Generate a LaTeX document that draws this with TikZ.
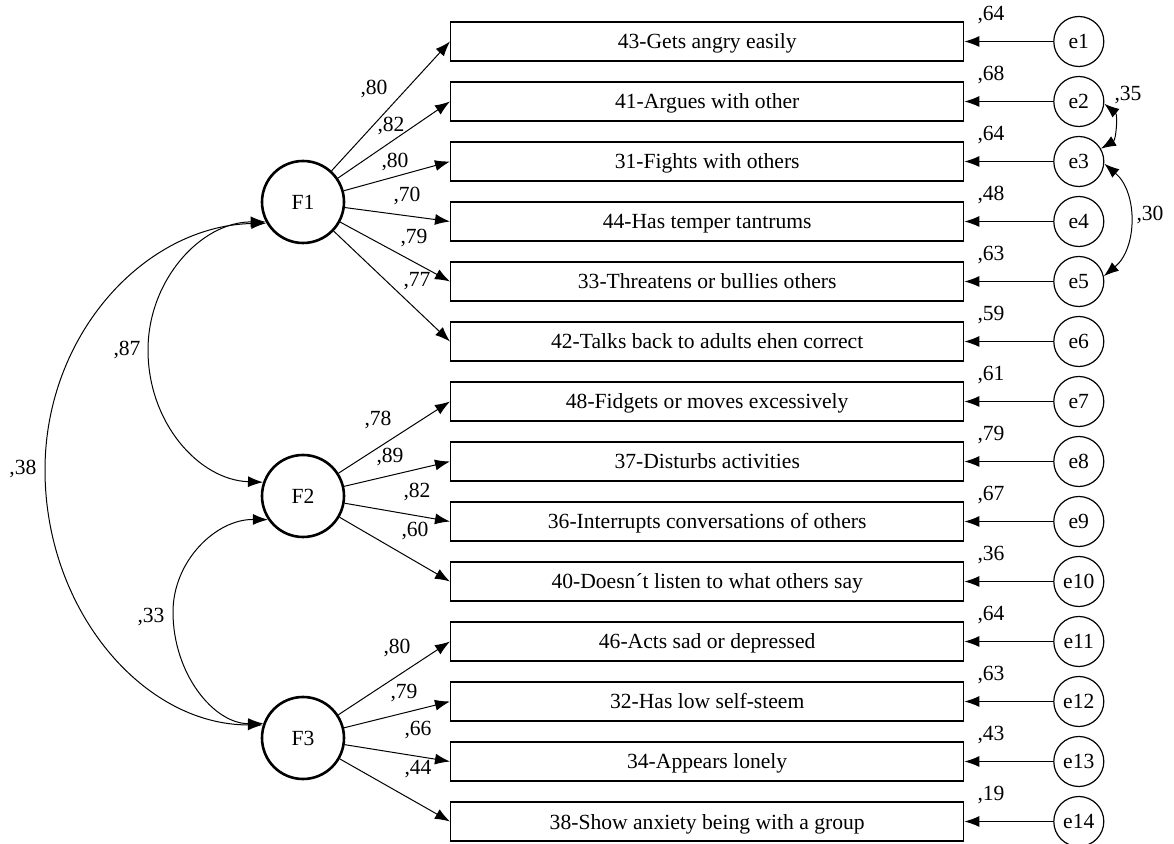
\documentclass[tikz,border=0pt]{standalone}
\usepackage{fontspec}
\setmainfont{Liberation Serif}
\usetikzlibrary{arrows.meta,positioning}

\begin{document}
\begin{tikzpicture}[x=0.5pt,y=0.5pt,>={Latex[length=7.5pt,width=5.5pt]},node distance=9.8pt and 44.4pt,
    font=\fontsize{10.8pt}{13pt}\selectfont,
    item/.style={draw,line width=0.7pt,minimum width=256.5pt,minimum height=19.5pt,text height=9pt,text depth=1.5pt,inner sep=0pt},
    latent/.style={circle,draw,line width=1.3pt,minimum size=41pt,inner sep=0pt},
    err/.style={circle,draw,line width=0.6pt,minimum size=25pt,inner sep=0pt},
    link/.style={->,line width=0.5pt},
    lbl/.style={inner sep=0pt}]
      \useasboundingbox (0,0) rectangle (1174,-844);
      % observed items
      \node[item,anchor=west] (b1) at (450,-41.5) {43-Gets angry easily};
      \node[item,below=of b1] (b2) {41-Argues with other};
      \node[item,below=of b2] (b3) {31-Fights with others};
      \node[item,below=of b3] (b4) {44-Has temper tantrums};
      \node[item,below=of b4] (b5) {33-Threatens or bullies others};
      \node[item,below=of b5] (b6) {42-Talks back to adults ehen correct};
      \node[item,below=of b6] (b7) {48-Fidgets or moves excessively};
      \node[item,below=of b7] (b8) {37-Disturbs activities};
      \node[item,below=of b8] (b9) {36-Interrupts conversations of others};
      \node[item,below=of b9] (b10) {40-Doesn´t listen to what others say};
      \node[item,below=of b10] (b11) {46-Acts sad or depressed};
      \node[item,below=of b11] (b12) {32-Has low self-steem};
      \node[item,below=of b12] (b13) {34-Appears lonely};
      \node[item,below=of b13] (b14) {38-Show anxiety being with a group};
      % error terms
      \node[err,right=of b1] (e1) {e1};
      \node[err,right=of b2] (e2) {e2};
      \node[err,right=of b3] (e3) {e3};
      \node[err,right=of b4] (e4) {e4};
      \node[err,right=of b5] (e5) {e5};
      \node[err,right=of b6] (e6) {e6};
      \node[err,right=of b7] (e7) {e7};
      \node[err,right=of b8] (e8) {e8};
      \node[err,right=of b9] (e9) {e9};
      \node[err,right=of b10] (e10) {e10};
      \node[err,right=of b11] (e11) {e11};
      \node[err,right=of b12] (e12) {e12};
      \node[err,right=of b13] (e13) {e13};
      \node[err,right=of b14] (e14) {e14};
      % factors
      \node[latent] (F1) at (303,-202) {F1};
      \node[latent] (F2) at (303,-496) {F2};
      \node[latent] (F3) at (303,-738) {F3};
      % loadings
      \draw[link] (F1) -- (b1.west);
      \draw[link] (F1) -- (b2.west);
      \draw[link] (F1) -- (b3.west);
      \draw[link] (F1) -- (b4.west);
      \draw[link] (F1) -- (b5.west);
      \draw[link] (F1) -- (b6.west);
      \draw[link] (F2) -- (b7.west);
      \draw[link] (F2) -- (b8.west);
      \draw[link] (F2) -- (b9.west);
      \draw[link] (F2) -- (b10.west);
      \draw[link] (F3) -- (b11.west);
      \draw[link] (F3) -- (b12.west);
      \draw[link] (F3) -- (b13.west);
      \draw[link] (F3) -- (b14.west);
      \node[lbl] at (374,-89) {,80};
      \node[lbl] at (391,-126) {,82};
      \node[lbl] at (395,-162) {,80};
      \node[lbl] at (407,-196) {,70};
      \node[lbl] at (414,-238) {,79};
      \node[lbl] at (417,-281) {,77};
      \node[lbl] at (378,-420) {,78};
      \node[lbl] at (390,-457) {,89};
      \node[lbl] at (417,-492) {,82};
      \node[lbl] at (415,-531) {,60};
      \node[lbl] at (397,-648) {,80};
      \node[lbl] at (404,-693) {,79};
      \node[lbl] at (418,-730) {,66};
      \node[lbl] at (418,-769) {,44};
      % error paths
      \draw[link] (e1) -- (b1.east);
      \draw[link] (e2) -- (b2.east);
      \draw[link] (e3) -- (b3.east);
      \draw[link] (e4) -- (b4.east);
      \draw[link] (e5) -- (b5.east);
      \draw[link] (e6) -- (b6.east);
      \draw[link] (e7) -- (b7.east);
      \draw[link] (e8) -- (b8.east);
      \draw[link] (e9) -- (b9.east);
      \draw[link] (e10) -- (b10.east);
      \draw[link] (e11) -- (b11.east);
      \draw[link] (e12) -- (b12.east);
      \draw[link] (e13) -- (b13.east);
      \draw[link] (e14) -- (b14.east);
      \node[lbl] at (991,-15) {,64};
      \node[lbl] at (991,-75) {,68};
      \node[lbl] at (991,-135) {,64};
      \node[lbl] at (991,-195) {,48};
      \node[lbl] at (991,-255) {,63};
      \node[lbl] at (991,-315) {,59};
      \node[lbl] at (991,-375) {,61};
      \node[lbl] at (991,-435) {,79};
      \node[lbl] at (991,-495) {,67};
      \node[lbl] at (991,-555) {,36};
      \node[lbl] at (991,-615) {,64};
      \node[lbl] at (991,-675) {,63};
      \node[lbl] at (991,-735) {,43};
      \node[lbl] at (991,-795) {,19};
      % covariances
      \draw[<->,line width=0.5pt] (F1.208) .. controls (201,-222) and (148,-280) .. (148,-350) .. controls (148,-423) and (199,-480) .. (F2.161);
      \draw[<->,line width=0.5pt] (F1.210) .. controls (145,-226) and (45,-334) .. (45,-470) .. controls (45,-610) and (143,-725) .. (F3.162);
      \draw[<->,line width=0.5pt] (F2.214) .. controls (216,-519) and (173,-561) .. (173,-612) .. controls (173,-674) and (214,-724) .. (F3.160);
      \draw[<->,line width=0.5pt] (e2.-5) to[bend left=55] (e3.30);
      \draw[<->,line width=0.5pt] (e3.-5) to[bend left=50] (e5.12);
      \node[lbl] at (127,-350) {,87};
      \node[lbl] at (23,-469) {,38};
      \node[lbl] at (151,-617) {,33};
      \node[lbl] at (1128,-95) {,35};
      \node[lbl] at (1150,-215) {,30};
    \end{tikzpicture}
\end{document}
